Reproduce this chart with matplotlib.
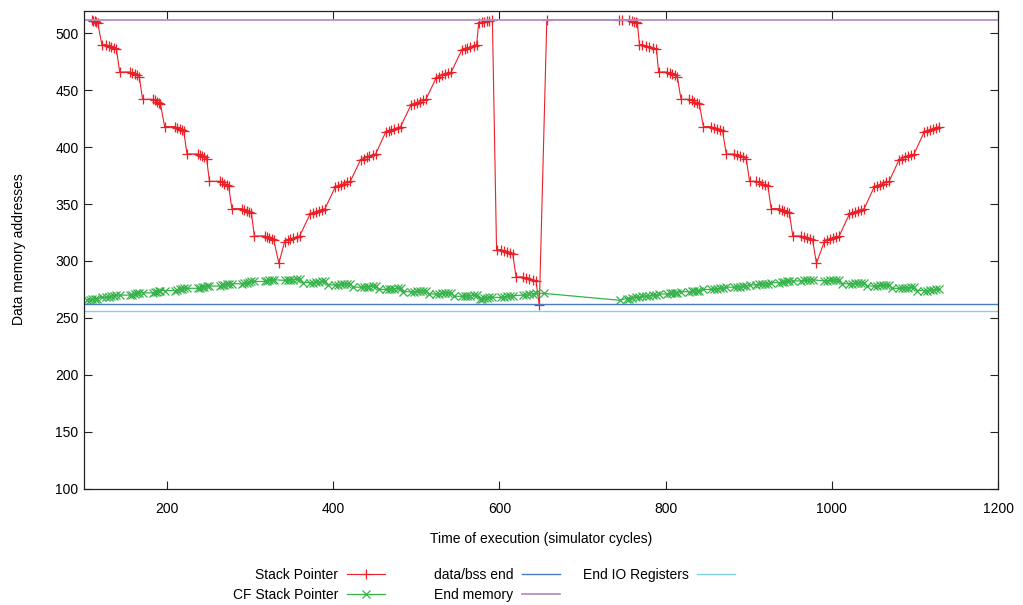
import numpy as np
import matplotlib
matplotlib.use("Agg")
import matplotlib.pyplot as plt

plt.rcParams['font.family'] = ['Liberation Sans', 'DejaVu Sans']
plt.rcParams['font.size'] = 10

# ----------------------------------------------
# Data (simulator cycles vs. data memory address)
# ----------------------------------------------

# Stack Pointer: start, first descent (calls), first climb (returns)
sp_start_x = [109.5, 111, 113, 115, 116.5]
sp_start_y = [512, 511, 511, 510, 509]

sp_down1_x = [121.5, 127, 130, 133, 136, 139,
              143, 155, 158, 161, 164, 166.5,
              170.5, 182.5, 185, 187.5, 190, 192,
              197, 209.5, 212, 215, 218, 220,
              224, 237.5, 240, 242.5, 245, 247.5,
              251, 263.5, 266, 269, 272, 274,
              278, 290.5, 293, 296, 299, 301.5,
              305, 317.5, 320, 323, 326, 328.5,
              334.5]
sp_down_y = [490, 490, 489, 488, 487, 486,
             466, 466, 465, 464, 463, 462,
             442, 442, 441, 440, 439, 438,
             418, 418, 417, 416, 415, 414,
             394, 394, 393, 392, 391, 390,
             370, 370, 369, 368, 367, 366,
             346, 346, 345, 344, 343, 342,
             322, 322, 321, 320, 319, 318,
             298]

sp_up1_x = [341.5, 345, 348.5, 352, 356, 359.5,
            372, 375.5, 379, 382.5, 386.5, 390,
            402.5, 406, 409.5, 413, 417, 420.5,
            433, 436.5, 440, 443.5, 447.5, 451,
            463, 466.5, 470, 473.5, 477.5, 481,
            493.5, 497, 500.5, 504, 508, 511.5,
            524, 527.5, 531, 534.5, 538.5, 542,
            554.5, 558, 561.5, 565, 569, 572.5,
            575, 579, 582, 585, 588, 591.5]
sp_up1_y = [317, 318, 319, 320, 321, 322,
            341, 342, 343, 344, 345, 346,
            365, 366, 367, 368, 369, 370,
            389, 390, 391, 392, 393, 394,
            413, 414, 415, 416, 417, 418,
            437, 438, 439, 440, 441, 442,
            461, 462, 463, 464, 465, 466,
            485, 486, 487, 488, 489, 490,
            509, 510, 510, 511, 511, 512]

# Stack Pointer: context switch drop and reset
sp_fall_x = [596.5, 602, 605.5, 609, 612.5, 616, 620, 628, 632, 636, 640, 644, 648]
sp_fall_y = [310, 310, 309, 308, 307, 306, 286, 286, 285, 284, 283, 282, 261]
sp_reset_x = [657, 743.5, 747.5, 756.5, 759, 761.5, 764, 766]
sp_reset_y = [512, 512, 512, 512, 511, 510, 510, 509]

# Stack Pointer: second descent and climb
sp_down2_x = [768.5, 772, 776, 780.5, 785, 789,
              791.5, 802, 805, 808, 811, 814,
              818.5, 828.5, 831.5, 834.5, 837.5, 840.5,
              845.5, 854.5, 858, 861.5, 865, 868.5,
              873, 882.5, 886, 889.5, 893, 897,
              901, 909, 912.5, 916, 919.5, 923,
              927, 937, 940, 943, 946, 949,
              953, 963, 966.5, 970, 973.5, 977,
              981.5]
sp_up2_x = [991, 994.5, 998, 1001.5, 1005.5, 1009,
            1021, 1024.5, 1028, 1031.5, 1035.5, 1039,
            1051, 1054.5, 1058, 1061.5, 1065.5, 1069,
            1081, 1084.5, 1088, 1091.5, 1095.5, 1099,
            1111, 1114.5, 1118, 1121.5, 1125.5, 1129]
sp_up2_y = sp_up1_y[:30]

# CF Stack Pointer
cf_down1_x = [104, 107, 110, 113, 116,
              121.5, 127, 130, 133, 136, 139,
              143, 155, 158, 161, 164, 166.5,
              170.5, 182.5, 185, 187.5, 190, 192,
              197, 209.5, 212, 215, 218, 220,
              224, 237.5, 240, 242.5, 245, 247.5,
              251, 263.5, 266, 269, 272, 274,
              278, 290.5, 293, 296, 299, 301.5,
              305, 317.5, 320, 323, 326, 328.5]
cf_down1_y = [266, 266, 266.5, 267, 267,
              268, 268, 268.5, 269, 269.5, 270,
              270, 270, 270.5, 271, 271.5, 272,
              272, 272, 272.5, 273, 273.5, 274,
              274, 274, 274.5, 275, 275.5, 276,
              276, 276, 276.5, 277, 277.5, 278,
              278, 278, 278.5, 279, 279.5, 280,
              280, 280, 280.5, 281, 281.5, 282,
              282, 282, 282.5, 283, 283, 283.5]

cf_up1_x = [341.5, 345, 348.5, 352, 356, 359.5, 363,
            372, 375.5, 379, 382.5, 386.5, 390, 393.5,
            402.5, 406, 409.5, 413, 417, 420.5, 424,
            433, 436.5, 440, 443.5, 447.5, 451, 454.5,
            463, 466.5, 470, 473.5, 477.5, 481, 484.5,
            493.5, 497, 500.5, 504, 508, 511.5, 515,
            524, 527.5, 531, 534.5, 538.5, 542, 545.5,
            554.5, 558, 561.5, 565, 569, 572.5, 576,
            579, 582, 585, 588, 591.5]
cf_up1_y = [283, 283, 283.5, 283.5, 284, 284, 281,
            281, 281, 281.5, 281.5, 282, 282, 279,
            279, 279, 279.5, 279.5, 280, 280, 277,
            277, 277, 277.5, 277.5, 278, 278, 275,
            275, 275, 275.5, 275.5, 276, 276, 273,
            273, 273, 273.5, 273.5, 274, 274, 271,
            271, 271, 271.5, 271.5, 272, 272, 269,
            269, 269, 269.5, 269.5, 270, 270, 267,
            267, 267.5, 267.5, 268, 268]

cf_mid_x = [602, 605.5, 609, 612.5, 616, 628, 632, 636, 640, 644, 654, 744.5]
cf_mid_y = [268, 268.5, 269, 269, 269.5, 270, 270.5, 271, 271, 271.5, 271.5, 265.5]

cf_down2_x = [753, 756.5, 760, 764, 768,
              772, 776, 780.5, 785, 789,
              791.5, 802, 805, 808, 811, 814,
              818.5, 828.5, 831.5, 834.5, 837.5, 840.5,
              845.5, 854.5, 858, 861.5, 865, 868.5,
              873, 882.5, 886, 889.5, 893, 897,
              901, 909, 912.5, 916, 919.5, 923,
              927, 937, 940, 943, 946, 949,
              953, 963, 966.5, 970, 973.5, 977]
cf_down2_y = [267, 267, 267.5, 268, 268,
              269, 269, 269.5, 270, 270,
              271, 271, 271.5, 271.5, 272, 272,
              273, 273, 273.5, 273.5, 274, 274,
              275, 275, 275.5, 275.5, 276, 276,
              277, 277, 277.5, 277.5, 278, 278,
              279, 279, 279.5, 279.5, 280, 280,
              281, 281, 281.5, 281.5, 282, 282,
              282.5, 282.5, 283, 283, 283.5, 283.5]

cf_up2_x = [991, 994.5, 998, 1001.5, 1005.5, 1009, 1012.5,
            1021, 1024.5, 1028, 1031.5, 1035.5, 1039, 1042.5,
            1051, 1054.5, 1058, 1061.5, 1065.5, 1069, 1072.5,
            1081, 1084.5, 1088, 1091.5, 1095.5, 1099, 1102.5,
            1111, 1114.5, 1118, 1121.5, 1125.5, 1129]
cf_up2_y = [282.5, 282.5, 283, 283, 283.5, 283.5, 280,
            280, 280, 280.5, 280.5, 281, 281, 278,
            278, 278, 278.5, 278.5, 279, 279, 276,
            276, 276, 276.5, 276.5, 277, 277, 274,
            274, 274, 274.5, 274.5, 275, 275]

# Memory boundaries
data_bss_end = 262
end_memory = 512
end_io_registers = 256

sp_x = np.concatenate([sp_start_x, sp_down1_x, sp_up1_x, sp_fall_x, sp_reset_x, sp_down2_x, sp_up2_x])
sp_y = np.concatenate([sp_start_y, sp_down_y, sp_up1_y, sp_fall_y, sp_reset_y, sp_down_y, sp_up2_y])
cf_x = np.concatenate([cf_down1_x, cf_up1_x, cf_mid_x, cf_down2_x, cf_up2_x])
cf_y = np.concatenate([cf_down1_y, cf_up1_y, cf_mid_y, cf_down2_y, cf_up2_y])

# ----------------------------------------------
# Plot
# ----------------------------------------------
fig = plt.figure(figsize=(10.23, 6.05), dpi=100)
ax = fig.add_axes([84 / 1023, 1 - 488.7 / 605, 914 / 1023, 478.2 / 605])

l_sp, = ax.plot(sp_x, sp_y, color='#ec2027', lw=0.8, marker='+', ms=7.5, mew=0.9,
                label='Stack Pointer')
l_cf, = ax.plot(cf_x, cf_y, color='#35b34a', lw=0.9, marker='x', ms=6, mew=0.9,
                label='CF Stack Pointer')
l_bss = ax.axhline(data_bss_end, color='#4a7cc4', lw=1.0, label='data/bss end')
l_mem = ax.axhline(end_memory, color='#b590c9', lw=1.3, label='End memory')
l_io = ax.axhline(end_io_registers, color='#80d2dc', lw=1.0, label='End IO Registers')

ax.set_xlim(100, 1200)
ax.set_ylim(100, 520)
ax.set_xticks(np.arange(200, 1201, 200))
ax.set_yticks(np.arange(100, 501, 50))
ax.tick_params(direction='in', top=True, right=True, length=6, width=0.8,
               labelsize=10, color='#222222')
ax.tick_params(axis='x', pad=9.5)
ax.tick_params(axis='y', pad=4)
for s in ax.spines.values():
    s.set_linewidth(0.9)
    s.set_color('#222222')

ax.set_xlabel('Time of execution (simulator cycles)', fontsize=10)
ax.set_ylabel('Data memory addresses', fontsize=10)
ax.xaxis.set_label_coords(0.5, -0.091)
ax.yaxis.set_label_coords(-0.064, 0.5)

# gnuplot style key below the plot: three right-aligned columns
legend_cols = [([l_sp, l_cf], 385), ([l_bss, l_mem], 560), ([l_io], 735)]
for handles, right_px in legend_cols:
    leg = fig.legend(handles=handles, loc='upper right',
                     bbox_to_anchor=(right_px / 1023, 1 - 568 / 605),
                     frameon=False, markerfirst=False, borderpad=0,
                     borderaxespad=0, handlelength=2.75, handletextpad=0.6,
                     labelspacing=0.4, fontsize=10)

fig.savefig('out.png', dpi=100)
